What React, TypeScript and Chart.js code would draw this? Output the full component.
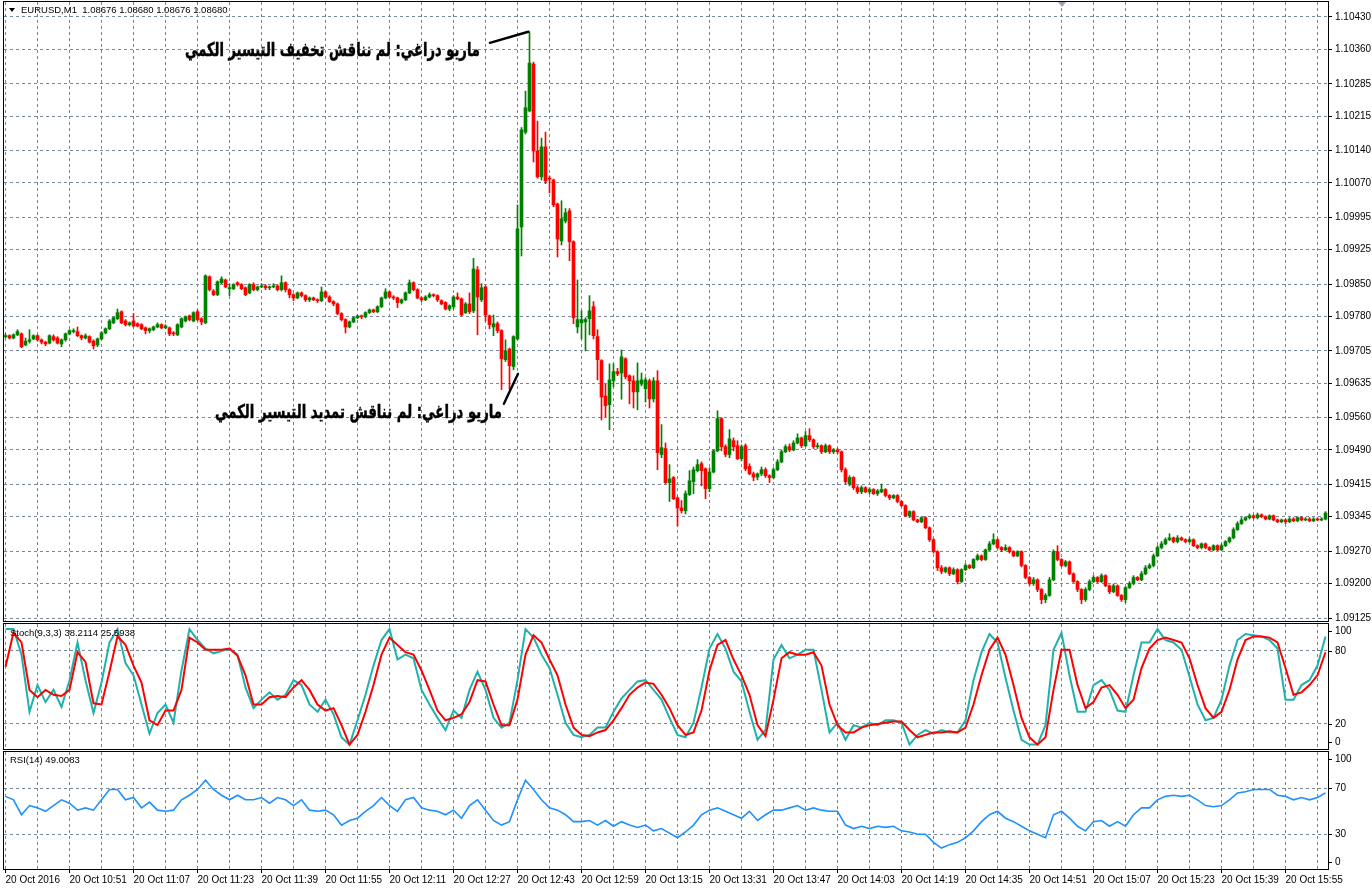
import React, { useEffect, useRef } from "react";
import { Chart, registerables } from "chart.js";

Chart.register(...registerables);

// ---------- DATA (EURUSD M1, 20 Oct 2016, minute index 0 = 10:35) ----------
const opens = [
1.09736,1.09738,1.09733,1.09740,1.09742,1.09718,1.09726,1.09731,1.09738,1.09729,
1.09724,1.09722,1.09736,1.09733,1.09720,1.09729,1.09742,1.09747,1.09747,1.09738,
1.09733,1.09736,1.09726,1.09718,1.09731,1.09744,1.09753,1.09766,1.09775,1.09790,
1.09770,1.09762,1.09770,1.09764,1.09762,1.09755,1.09749,1.09751,1.09757,1.09762,
1.09755,1.09755,1.09744,1.09740,1.09757,1.09770,1.09781,1.09770,1.09790,1.09775,
1.09766,1.09866,1.09835,1.09827,1.09853,1.09859,1.09840,1.09840,1.09853,1.09849,
1.09842,1.09831,1.09849,1.09838,1.09844,1.09846,1.09842,1.09844,1.09846,1.09838,
1.09853,1.09838,1.09827,1.09820,1.09831,1.09825,1.09816,1.09820,1.09816,1.09814,
1.09833,1.09822,1.09812,1.09807,1.09786,1.09773,1.09757,1.09768,1.09777,1.09781,
1.09779,1.09788,1.09794,1.09790,1.09801,1.09820,1.09833,1.09822,1.09820,1.09810,
1.09816,1.09831,1.09853,1.09838,1.09820,1.09816,1.09822,1.09827,1.09825,1.09814,
1.09810,1.09796,1.09801,1.09822,1.09818,1.09788,1.09807,1.09792,1.09881,1.09816,
1.09844,1.09781,1.09757,1.09764,1.09749,1.09686,1.09709,1.09671,1.09731,1.09974,
1.10180,1.10226,1.10328,1.10139,1.10083,1.10148,1.10080,1.10076,1.10024,1.09944,
1.09987,1.10009,1.09942,1.09757,1.09766,1.09768,1.09775,1.09801,1.09736,1.09684,
1.09607,1.09588,1.09640,1.09660,1.09657,1.09688,1.09651,1.09640,1.09616,1.09633,
1.09623,1.09640,1.09601,1.09640,1.09480,1.09493,1.09419,1.09430,1.09386,1.09364,
1.09358,1.09393,1.09421,1.09445,1.09460,1.09449,1.09406,1.09442,1.09488,1.09558,
1.09497,1.09480,1.09510,1.09499,1.09471,1.09499,1.09454,1.09438,1.09431,1.09438,
1.09447,1.09434,1.09430,1.09447,1.09464,1.09486,1.09497,1.09490,1.09505,1.09516,
1.09499,1.09521,1.09512,1.09497,1.09499,1.09486,1.09499,1.09486,1.09490,1.09486,
1.09447,1.09416,1.09430,1.09408,1.09399,1.09408,1.09399,1.09404,1.09395,1.09399,
1.09404,1.09391,1.09386,1.09391,1.09378,1.09369,1.09347,1.09356,1.09338,1.09334,
1.09343,1.09321,1.09295,1.09269,1.09234,1.09226,1.09234,1.09221,1.09230,1.09204,
1.09230,1.09239,1.09234,1.09252,1.09260,1.09252,1.09273,1.09286,1.09295,1.09278,
1.09273,1.09278,1.09269,1.09260,1.09269,1.09239,1.09213,1.09200,1.09208,1.09187,
1.09165,1.09174,1.09208,1.09269,1.09252,1.09239,1.09247,1.09221,1.09204,1.09187,
1.09165,1.09187,1.09204,1.09213,1.09204,1.09217,1.09195,1.09182,1.09195,1.09174,
1.09165,1.09191,1.09200,1.09213,1.09208,1.09221,1.09234,1.09239,1.09260,1.09278,
1.09286,1.09295,1.09299,1.09291,1.09299,1.09295,1.09291,1.09295,1.09282,1.09278,
1.09286,1.09278,1.09273,1.09282,1.09273,1.09282,1.09291,1.09299,1.09317,1.09330,
1.09338,1.09343,1.09347,1.09343,1.09349,1.09345,1.09340,1.09347,1.09338,1.09334,
1.09338,1.09334,1.09340,1.09336,1.09343,1.09338,1.09340,1.09336,1.09340,1.09338,
1.09340];

const highs = [
1.09742,1.09740,1.09742,1.09751,1.09744,1.09733,1.09751,1.09740,1.09740,1.09731,
1.09726,1.09740,1.09740,1.09736,1.09731,1.09744,1.09751,1.09753,1.09757,1.09740,
1.09742,1.09738,1.09729,1.09733,1.09747,1.09755,1.09773,1.09779,1.09796,1.09792,
1.09773,1.09768,1.09786,1.09766,1.09764,1.09757,1.09755,1.09759,1.09766,1.09764,
1.09762,1.09757,1.09747,1.09764,1.09777,1.09781,1.09783,1.09790,1.09794,1.09777,
1.09870,1.09868,1.09838,1.09857,1.09866,1.09861,1.09851,1.09851,1.09855,1.09851,
1.09844,1.09851,1.09853,1.09846,1.09851,1.09849,1.09846,1.09851,1.09849,1.09868,
1.09855,1.09840,1.09829,1.09833,1.09833,1.09827,1.09822,1.09822,1.09818,1.09844,
1.09835,1.09825,1.09814,1.09809,1.09788,1.09775,1.09770,1.09779,1.09783,1.09783,
1.09790,1.09796,1.09796,1.09803,1.09822,1.09840,1.09835,1.09825,1.09822,1.09818,
1.09833,1.09859,1.09855,1.09840,1.09822,1.09825,1.09831,1.09829,1.09827,1.09816,
1.09812,1.09805,1.09825,1.09831,1.09820,1.09810,1.09831,1.09906,1.09888,1.09851,
1.09846,1.09783,1.09783,1.09768,1.09751,1.09729,1.09711,1.09738,1.10022,1.10190,
1.10269,1.10398,1.10332,1.10204,1.10167,1.10180,1.10085,1.10078,1.10026,1.10031,
1.10014,1.10014,1.09944,1.09859,1.09792,1.09777,1.09825,1.09812,1.09751,1.09686,
1.09633,1.09677,1.09677,1.09667,1.09707,1.09690,1.09653,1.09651,1.09679,1.09657,
1.09647,1.09644,1.09647,1.09662,1.09545,1.09505,1.09458,1.09432,1.09388,1.09380,
1.09401,1.09445,1.09453,1.09469,1.09464,1.09451,1.09451,1.09490,1.09575,1.09560,
1.09501,1.09534,1.09516,1.09510,1.09501,1.09503,1.09460,1.09442,1.09440,1.09453,
1.09451,1.09436,1.09451,1.09469,1.09490,1.09501,1.09503,1.09510,1.09525,1.09518,
1.09530,1.09536,1.09514,1.09505,1.09501,1.09503,1.09501,1.09493,1.09493,1.09488,
1.09451,1.09434,1.09432,1.09412,1.09412,1.09410,1.09408,1.09406,1.09404,1.09416,
1.09406,1.09393,1.09393,1.09393,1.09380,1.09371,1.09358,1.09358,1.09340,1.09345,
1.09345,1.09323,1.09297,1.09271,1.09239,1.09236,1.09236,1.09234,1.09232,1.09232,
1.09243,1.09241,1.09254,1.09264,1.09262,1.09275,1.09291,1.09308,1.09297,1.09280,
1.09284,1.09280,1.09271,1.09271,1.09271,1.09241,1.09215,1.09213,1.09210,1.09189,
1.09178,1.09213,1.09273,1.09282,1.09254,1.09250,1.09249,1.09223,1.09206,1.09189,
1.09191,1.09208,1.09217,1.09215,1.09221,1.09219,1.09197,1.09199,1.09197,1.09176,
1.09193,1.09204,1.09217,1.09215,1.09226,1.09239,1.09243,1.09264,1.09282,1.09291,
1.09299,1.09308,1.09301,1.09304,1.09301,1.09297,1.09299,1.09297,1.09284,1.09288,
1.09288,1.09280,1.09284,1.09284,1.09286,1.09293,1.09301,1.09321,1.09334,1.09343,
1.09345,1.09351,1.09349,1.09353,1.09351,1.09347,1.09349,1.09349,1.09340,1.09340,
1.09340,1.09343,1.09343,1.09345,1.09345,1.09343,1.09343,1.09343,1.09343,1.09343,
1.09356];

const lows = [
1.09733,1.09731,1.09731,1.09738,1.09712,1.09716,1.09722,1.09729,1.09726,1.09720,
1.09716,1.09720,1.09726,1.09720,1.09714,1.09726,1.09740,1.09744,1.09736,1.09729,
1.09731,1.09722,1.09709,1.09714,1.09729,1.09742,1.09751,1.09764,1.09773,1.09764,
1.09759,1.09759,1.09757,1.09757,1.09751,1.09742,1.09744,1.09749,1.09755,1.09753,
1.09753,1.09738,1.09738,1.09738,1.09755,1.09768,1.09770,1.09768,1.09770,1.09762,
1.09764,1.09835,1.09825,1.09825,1.09851,1.09842,1.09825,1.09838,1.09846,1.09838,
1.09825,1.09829,1.09835,1.09835,1.09842,1.09838,1.09838,1.09842,1.09835,1.09835,
1.09833,1.09820,1.09814,1.09818,1.09822,1.09812,1.09812,1.09814,1.09810,1.09812,
1.09820,1.09810,1.09803,1.09783,1.09770,1.09744,1.09755,1.09766,1.09775,1.09775,
1.09777,1.09786,1.09788,1.09788,1.09799,1.09818,1.09820,1.09816,1.09799,1.09807,
1.09814,1.09829,1.09835,1.09818,1.09812,1.09814,1.09820,1.09822,1.09812,1.09805,
1.09794,1.09792,1.09796,1.09816,1.09781,1.09786,1.09786,1.09788,1.09740,1.09812,
1.09770,1.09753,1.09738,1.09744,1.09621,1.09682,1.09621,1.09664,1.09729,1.09911,
1.10176,1.10224,1.10115,1.10080,1.10076,1.10068,1.10048,1.10018,1.09909,1.09935,
1.09983,1.09901,1.09764,1.09744,1.09731,1.09705,1.09740,1.09731,1.09642,1.09555,
1.09562,1.09534,1.09627,1.09651,1.09600,1.09644,1.09590,1.09581,1.09577,1.09629,
1.09594,1.09581,1.09594,1.09447,1.09473,1.09416,1.09378,1.09382,1.09325,1.09353,
1.09351,1.09391,1.09395,1.09442,1.09412,1.09384,1.09399,1.09440,1.09486,1.09488,
1.09475,1.09473,1.09488,1.09469,1.09466,1.09445,1.09436,1.09423,1.09425,1.09434,
1.09430,1.09419,1.09427,1.09445,1.09462,1.09484,1.09486,1.09488,1.09503,1.09495,
1.09497,1.09508,1.09493,1.09493,1.09482,1.09484,1.09482,1.09482,1.09482,1.09442,
1.09416,1.09412,1.09404,1.09395,1.09395,1.09397,1.09395,1.09393,1.09391,1.09397,
1.09388,1.09382,1.09384,1.09375,1.09367,1.09345,1.09343,1.09336,1.09332,1.09332,
1.09319,1.09291,1.09266,1.09228,1.09221,1.09223,1.09217,1.09219,1.09199,1.09202,
1.09228,1.09232,1.09232,1.09250,1.09249,1.09250,1.09271,1.09284,1.09275,1.09269,
1.09271,1.09266,1.09258,1.09258,1.09236,1.09210,1.09196,1.09196,1.09182,1.09156,
1.09158,1.09172,1.09206,1.09249,1.09236,1.09236,1.09219,1.09202,1.09182,1.09156,
1.09161,1.09184,1.09202,1.09202,1.09202,1.09193,1.09178,1.09180,1.09172,1.09161,
1.09158,1.09189,1.09197,1.09206,1.09206,1.09219,1.09232,1.09236,1.09258,1.09275,
1.09284,1.09293,1.09288,1.09288,1.09293,1.09288,1.09288,1.09280,1.09275,1.09275,
1.09275,1.09271,1.09271,1.09271,1.09271,1.09280,1.09288,1.09297,1.09315,1.09328,
1.09336,1.09340,1.09340,1.09340,1.09343,1.09338,1.09338,1.09336,1.09332,1.09332,
1.09330,1.09332,1.09334,1.09334,1.09336,1.09336,1.09334,1.09334,1.09336,1.09336,
1.09338];

const closes = [
1.09738,1.09733,1.09740,1.09747,1.09714,1.09726,1.09729,1.09738,1.09729,1.09724,
1.09720,1.09738,1.09729,1.09722,1.09729,1.09742,1.09749,1.09749,1.09738,1.09733,
1.09738,1.09724,1.09716,1.09731,1.09744,1.09753,1.09770,1.09777,1.09788,1.09766,
1.09762,1.09766,1.09759,1.09759,1.09753,1.09749,1.09753,1.09757,1.09762,1.09755,
1.09759,1.09742,1.09742,1.09762,1.09775,1.09779,1.09773,1.09788,1.09773,1.09768,
1.09868,1.09838,1.09827,1.09855,1.09861,1.09844,1.09842,1.09849,1.09849,1.09840,
1.09827,1.09849,1.09838,1.09844,1.09846,1.09842,1.09844,1.09846,1.09838,1.09853,
1.09838,1.09827,1.09820,1.09831,1.09825,1.09816,1.09820,1.09816,1.09814,1.09833,
1.09822,1.09812,1.09807,1.09786,1.09773,1.09757,1.09768,1.09777,1.09781,1.09779,
1.09788,1.09794,1.09790,1.09801,1.09820,1.09833,1.09822,1.09820,1.09810,1.09816,
1.09831,1.09853,1.09838,1.09820,1.09816,1.09822,1.09827,1.09825,1.09816,1.09807,
1.09796,1.09803,1.09822,1.09818,1.09783,1.09807,1.09790,1.09883,1.09822,1.09842,
1.09783,1.09762,1.09764,1.09749,1.09688,1.09705,1.09673,1.09736,1.09970,1.10185,
1.10233,1.10330,1.10139,1.10083,1.10148,1.10074,1.10078,1.10022,1.09948,1.09992,
1.10005,1.09942,1.09777,1.09773,1.09773,1.09773,1.09792,1.09738,1.09686,1.09605,
1.09586,1.09642,1.09660,1.09655,1.09692,1.09649,1.09640,1.09616,1.09640,1.09642,
1.09642,1.09601,1.09640,1.09484,1.09495,1.09419,1.09427,1.09384,1.09364,1.09358,
1.09395,1.09423,1.09447,1.09458,1.09445,1.09406,1.09442,1.09488,1.09558,1.09497,
1.09480,1.09514,1.09497,1.09471,1.09497,1.09449,1.09438,1.09431,1.09438,1.09447,
1.09434,1.09430,1.09447,1.09464,1.09486,1.09497,1.09490,1.09505,1.09516,1.09499,
1.09521,1.09512,1.09497,1.09499,1.09486,1.09499,1.09486,1.09490,1.09486,1.09447,
1.09421,1.09430,1.09408,1.09399,1.09408,1.09399,1.09404,1.09395,1.09401,1.09404,
1.09391,1.09386,1.09391,1.09378,1.09369,1.09347,1.09356,1.09338,1.09334,1.09343,
1.09321,1.09295,1.09269,1.09234,1.09226,1.09234,1.09221,1.09230,1.09204,1.09230,
1.09239,1.09234,1.09252,1.09260,1.09252,1.09273,1.09286,1.09295,1.09278,1.09273,
1.09278,1.09269,1.09260,1.09269,1.09239,1.09213,1.09200,1.09208,1.09187,1.09165,
1.09174,1.09208,1.09269,1.09252,1.09239,1.09247,1.09221,1.09204,1.09187,1.09165,
1.09187,1.09204,1.09213,1.09204,1.09217,1.09195,1.09182,1.09195,1.09174,1.09165,
1.09191,1.09200,1.09213,1.09208,1.09221,1.09234,1.09239,1.09260,1.09278,1.09286,
1.09295,1.09299,1.09291,1.09299,1.09295,1.09291,1.09295,1.09282,1.09278,1.09286,
1.09278,1.09273,1.09282,1.09273,1.09282,1.09291,1.09299,1.09317,1.09330,1.09338,
1.09343,1.09347,1.09343,1.09349,1.09345,1.09340,1.09347,1.09338,1.09334,1.09338,
1.09334,1.09340,1.09336,1.09343,1.09338,1.09340,1.09336,1.09340,1.09338,1.09340,
1.09353];

const priceTickLabels = ["1.10430","1.10360","1.10285","1.10215","1.10140","1.10070","1.09995","1.09925","1.09850","1.09780","1.09705","1.09635","1.09560","1.09490","1.09415","1.09345","1.09270","1.09200","1.09125"];
const timeLabels = ["20 Oct 2016","20 Oct 10:51","20 Oct 11:07","20 Oct 11:23","20 Oct 11:39","20 Oct 11:55","20 Oct 12:11","20 Oct 12:27","20 Oct 12:43","20 Oct 12:59","20 Oct 13:15","20 Oct 13:31","20 Oct 13:47","20 Oct 14:03","20 Oct 14:19","20 Oct 14:35","20 Oct 14:51","20 Oct 15:07","20 Oct 15:23","20 Oct 15:39","20 Oct 15:55"];
const stochTickValues = [100, 80, 20, 0];
const stochTickLabels = ["100", "80", "20", "0"];
const rsiTickValues = [100, 70, 30, 0];
const rsiTickLabels = ["100", "70", "30", "0"];

// indicator samples, one every INDICATOR_STEP minutes
const INDICATOR_STEP = 2;
const stochMain = [98,98,77,30,52,38,48,34,56,87,56,29,54,87,98,70,60,36,12,29,36,21,64,98,89,82,78,80,82,77,50,33,40,46,40,44,56,
52,36,30,40,28,9,3,23,44,68,89,98,73,77,74,48,36,25,15,31,25,48,63,48,25,17,21,56,98,91,77,66,44,21,11,9,11,17,17,30,
41,48,55,56,48,40,25,11,9,21,50,82,94,82,63,55,30,7,15,73,85,74,77,81,81,48,13,21,7,19,17,21,19,23,23,21,3,11,15,12,
15,13,13,23,56,79,94,87,58,31,7,3,3,19,81,95,60,30,30,52,56,48,31,30,60,87,87,98,89,87,81,59,36,23,25,40,68,89,94,93,
92,89,82,40,40,52,56,68,92];
const stochSignal = [67,95,87,48,42,48,44,43,48,79,71,37,36,63,92,85,68,54,23,19,31,31,48,91,87,81,81,81,82,76,60,36,36,42,43,42,50,
56,48,36,31,33,19,3,11,30,52,77,91,85,79,77,64,48,31,23,25,28,38,56,55,36,19,19,40,77,93,87,73,60,36,17,11,10,13,15,23,
33,44,50,54,53,44,33,19,11,13,31,64,85,89,73,60,44,19,10,40,74,79,77,77,79,68,36,19,13,13,17,19,20,21,22,22,15,9,11,13,
13,14,13,17,36,60,81,91,77,52,25,9,3,9,48,81,81,52,33,38,50,52,44,33,40,66,82,89,91,89,87,74,52,33,25,30,48,73,89,92,
92,91,87,66,44,46,52,60,79];
const rsiValues = [63,60,47,55,53,50,55,60,57,51,53,51,60,69,69,60,62,53,58,51,50,51,60,64,69,77,69,64,60,64,60,60,62,57,62,60,55,
60,51,50,51,47,38,42,44,50,55,62,55,50,60,62,53,51,50,47,51,44,55,60,51,42,38,41,60,77,69,60,53,51,47,41,41,42,38,42,37,
41,38,36,38,33,35,31,27,32,38,47,51,53,50,47,44,50,42,47,51,51,53,55,51,53,51,50,50,38,35,37,35,37,36,37,33,32,30,30,23,
18,21,23,27,33,41,47,50,44,41,37,33,30,27,47,50,44,37,33,41,42,37,41,37,47,53,53,60,63,64,63,64,60,55,54,55,60,66,67,69,
69,69,64,63,60,62,60,62,66];

const headerMain = "EURUSD,M1  1.08676 1.08680 1.08676 1.08680";
const headerStoch = "Stoch(9,3,3) 38.2114 25.5938";
const headerRsi = "RSI(14) 49.0083";

// news notes: text anchored at (minute, price) by its right edge; pointer line from -> to
const noteTexts = ["ماريو دراغي: لم نناقش تخفيف التيسير الكمي", "ماريو دراغي: لم نناقش تمديد التيسير الكمي"];
const noteTextAt = [[118.6, 1.10357], [124.1, 1.09571]];
const noteLineFrom = [[121.1, 1.10374], [124.6, 1.09590]];
const noteLineTo = [[130.7, 1.10398], [128.1, 1.09655]];

// ---------- STYLE ----------
const W = 1372;
const FONT = '"Liberation Sans", Arial, sans-serif';
const GRID = "#778899";
const UP = "#008000";
const DOWN = "#ff0000";
const X_MIN = -0.375;
const X_MAX = 330.625;

function xScale(showLabels: boolean) {
  return {
    type: "linear",
    min: X_MIN,
    max: X_MAX,
    offset: false,
    afterBuildTicks: (s: any) => {
      const t: any[] = [];
      for (let v = 0; v <= 328; v += 8) t.push({ value: v });
      s.ticks = t;
    },
    grid: {
      color: GRID,
      lineWidth: 1,
      offset: false,
      drawTicks: showLabels,
      tickLength: 4,
      tickBorderDash: [],
      tickColor: (c: any) => (c.tick && c.tick.value % 16 === 0 ? "#000" : "rgba(0,0,0,0)"),
    },
    border: { display: false, dash: [3, 3] },
    ticks: {
      display: showLabels,
      autoSkip: false,
      maxRotation: 0,
      minRotation: 0,
      align: "start",
      padding: 1,
      color: "#000",
      font: { family: FONT, size: 10 },
      callback: (v: any) => (v % 16 === 0 ? timeLabels[v / 16] ?? "" : ""),
    },
    afterFit: (s: any) => {
      s.height = showLabels ? 21 : 0;
      s.paddingLeft = 0;
      s.paddingRight = 0;
    },
  };
}

// showLabels=false: labels are drawn by the panel plugin (clamped inside the window like MT4)
function yScale(min: number, max: number, values: number[], labels: string[], gridAt: (i: number) => boolean, showLabels: boolean) {
  return {
    type: "linear",
    position: "right",
    min,
    max,
    afterBuildTicks: (s: any) => {
      s.ticks = values.map((v) => ({ value: v }));
    },
    grid: {
      color: (c: any) => (gridAt(c.index) ? GRID : "rgba(0,0,0,0)"),
      drawTicks: showLabels,
      tickLength: 4,
      tickColor: "#000",
      tickBorderDash: [],
    },
    border: { display: false, dash: [3, 3] },
    ticks: {
      display: showLabels,
      autoSkip: false,
      crossAlign: "near",
      padding: 3,
      color: "#000",
      font: { family: FONT, size: 10 },
      callback: (_v: any, i: number) => labels[i],
    },
    afterFit: (s: any) => {
      s.width = 44;
      s.paddingTop = 0;
      s.paddingBottom = 0;
    },
  };
}

function framePlugin(header: string, headerY: number, withTriangle: boolean, levelValues?: number[], levelLabels?: string[]) {
  return {
    id: "frame",
    afterDraw(chart: any) {
      const ctx = chart.ctx;
      const a = chart.chartArea;
      ctx.save();
      ctx.strokeStyle = "#000";
      ctx.lineWidth = 1;
      ctx.strokeRect(a.left - 0.5, a.top - 0.5, a.right - a.left + 1, a.bottom - a.top + 1);
      ctx.fillStyle = "#000";
      ctx.font = `9.5px ${FONT}`;
      ctx.textBaseline = "middle";
      let x = 10;
      if (withTriangle) {
        ctx.beginPath();
        ctx.moveTo(9, headerY - 2);
        ctx.lineTo(15, headerY - 2);
        ctx.lineTo(12, headerY + 2);
        ctx.closePath();
        ctx.fill();
        x = 21;
        ctx.fillStyle = "#9aa4ae";
        ctx.beginPath();
        ctx.moveTo(1058, a.top);
        ctx.lineTo(1066, a.top);
        ctx.lineTo(1062, a.top + 5);
        ctx.closePath();
        ctx.fill();
        ctx.fillStyle = "#000";
      }
      ctx.fillText(header, x, headerY);
      if (levelValues && levelLabels) {
        const ys = chart.scales.y;
        ctx.font = `10px ${FONT}`;
        ctx.textAlign = "left";
        levelValues.forEach((v, i) => {
          let y = ys.getPixelForValue(v);
          y = Math.min(Math.max(y, a.top + 7), a.bottom - 7);
          const yy = Math.round(y) + 0.5;
          ctx.beginPath();
          ctx.moveTo(a.right, yy);
          ctx.lineTo(a.right + 4, yy);
          ctx.stroke();
          ctx.fillText(levelLabels[i], a.right + 7, y);
        });
      }
      ctx.restore();
    },
  };
}

const notesPlugin = {
  id: "notes",
  afterDatasetsDraw(chart: any) {
    const ctx = chart.ctx;
    const xs = chart.scales.x;
    const ys = chart.scales.y;
    const targetWidths = [295, 287];
    ctx.save();
    ctx.strokeStyle = "#000";
    ctx.lineWidth = 2.4;
    ctx.lineCap = "round";
    noteTexts.forEach((t, i) => {
      ctx.beginPath();
      ctx.moveTo(xs.getPixelForValue(noteLineFrom[i][0]), ys.getPixelForValue(noteLineFrom[i][1]));
      ctx.lineTo(xs.getPixelForValue(noteLineTo[i][0]), ys.getPixelForValue(noteLineTo[i][1]));
      ctx.stroke();
      ctx.font = `bold 19px "DejaVu Sans", sans-serif`;
      ctx.direction = "rtl";
      ctx.textAlign = "right";
      ctx.textBaseline = "middle";
      const w = ctx.measureText(t).width;
      const sx = targetWidths[i] / w;
      const px = xs.getPixelForValue(noteTextAt[i][0]);
      const py = ys.getPixelForValue(noteTextAt[i][1]);
      ctx.save();
      ctx.translate(px, py);
      ctx.scale(sx, 1);
      ctx.fillStyle = "#000";
      ctx.fillText(t, 0, 0);
      ctx.lineWidth = 0.5;
      ctx.strokeText(t, 0, 0);
      ctx.restore();
    });
    ctx.restore();
  },
};

const baseOptions = {
  responsive: false,
  animation: false as const,
  devicePixelRatio: 1,
  events: [] as any[],
  plugins: { legend: { display: false }, tooltip: { enabled: false } },
};

function makeMain(canvas: HTMLCanvasElement) {
  const colors = opens.map((o, i) => (closes[i] >= o ? UP : DOWN));
  return new Chart(canvas, {
    type: "bar",
    data: {
      datasets: [
        {
          label: "body",
          data: opens.map((o, i) => ({ x: i, y: [o, closes[i]] })) as any,
          backgroundColor: colors,
          grouped: false,
          barThickness: 3,
          minBarLength: 1,
          borderWidth: 0,
        },
        {
          label: "wick",
          data: opens.map((_o, i) => ({ x: i, y: [lows[i], highs[i]] })) as any,
          backgroundColor: colors,
          grouped: false,
          barThickness: 1,
          minBarLength: 1,
          borderWidth: 0,
        },
      ],
    },
    options: {
      ...baseOptions,
      layout: { padding: { left: 4, top: 2, right: 0, bottom: 1 }, autoPadding: false },
      scales: {
        x: xScale(false) as any,
        y: yScale(1.0911849, 1.1046257, priceTickLabels.map(Number), priceTickLabels, () => true, true) as any,
      },
    } as any,
    plugins: [framePlugin(headerMain, 10, true), notesPlugin],
  });
}

function lineSet(values: number[], color: string, width: number) {
  return {
    data: values.map((v, k) => ({ x: k * INDICATOR_STEP, y: v })),
    borderColor: color,
    borderWidth: width,
    pointRadius: 0,
    tension: 0,
    fill: false,
  };
}

function makeStoch(canvas: HTMLCanvasElement) {
  return new Chart(canvas, {
    type: "line",
    data: {
      datasets: [lineSet(stochSignal, "#ff0000", 2), lineSet(stochMain, "#20b2aa", 2)] as any,
    },
    options: {
      ...baseOptions,
      layout: { padding: { left: 4, top: 2, right: 0, bottom: 1 }, autoPadding: false },
      scales: {
        x: xScale(false) as any,
        y: yScale(-0.6, 102.2, stochTickValues, stochTickLabels, (i) => i === 1 || i === 2, false) as any,
      },
    } as any,
    plugins: [framePlugin(headerStoch, 11, false, stochTickValues, stochTickLabels)],
  });
}

function makeRsi(canvas: HTMLCanvasElement) {
  return new Chart(canvas, {
    type: "line",
    data: { datasets: [lineSet(rsiValues, "#1e90ff", 1.6)] as any },
    options: {
      ...baseOptions,
      layout: { padding: { left: 4, top: 2, right: 0, bottom: 0 }, autoPadding: false },
      scales: {
        x: xScale(true) as any,
        y: yScale(-0.2, 101.6, rsiTickValues, rsiTickLabels, (i) => i === 1 || i === 2, false) as any,
      },
    } as any,
    plugins: [framePlugin(headerRsi, 10, false, rsiTickValues, rsiTickLabels)],
  });
}

export default function App() {
  const mainRef = useRef<HTMLCanvasElement>(null);
  const stochRef = useRef<HTMLCanvasElement>(null);
  const rsiRef = useRef<HTMLCanvasElement>(null);

  useEffect(() => {
    const charts = [makeMain(mainRef.current!), makeStoch(stochRef.current!), makeRsi(rsiRef.current!)];
    return () => charts.forEach((c) => c.destroy());
  }, []);

  const cv = (top: number, h: number) => ({ position: "absolute" as const, left: 0, top, width: W, height: h, display: "block" });
  return (
    <div style={{ position: "fixed", left: 0, top: 0, width: W, height: 890, background: "#fff", overflow: "hidden" }}>
      <canvas ref={mainRef} width={W} height={622} style={cv(0, 622)} />
      <canvas ref={stochRef} width={W} height={128} style={cv(622, 128)} />
      <canvas ref={rsiRef} width={W} height={140} style={cv(750, 140)} />
    </div>
  );
}
